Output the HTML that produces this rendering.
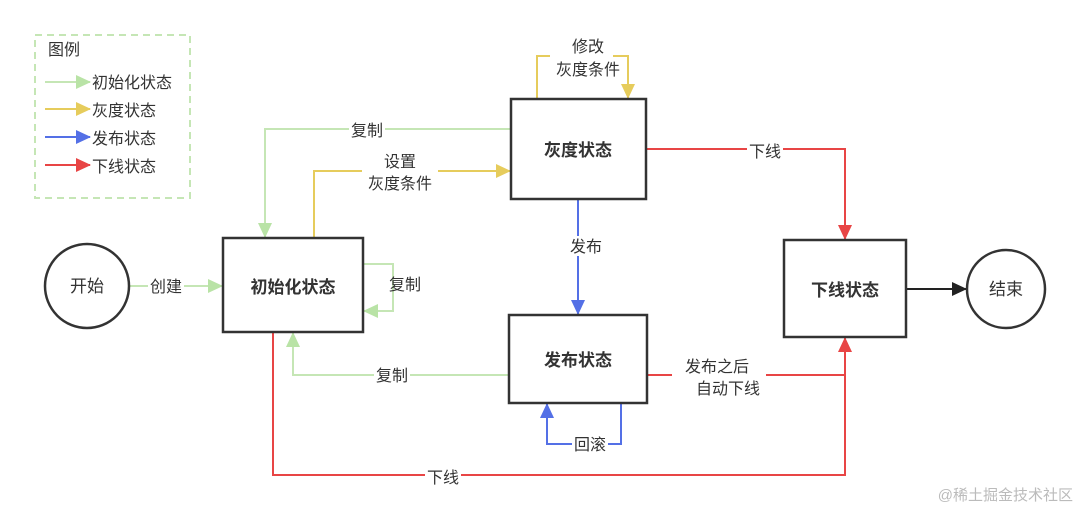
<!DOCTYPE html>
<html><head><meta charset="utf-8"><style>
html,body{margin:0;padding:0;background:#fff;width:1080px;height:510px;overflow:hidden}
text{font-family:"Liberation Sans","Noto Sans CJK SC",sans-serif;fill:#333}
</style></head><body>
<svg width="1080" height="510" viewBox="0 0 1080 510" xmlns="http://www.w3.org/2000/svg">
<defs>
<marker id="g" markerWidth="15" markerHeight="14" refX="14" refY="7" orient="auto" markerUnits="userSpaceOnUse"><path d="M0,0 L15,7 L0,14 Z" fill="#b9e3a6"/></marker>
<marker id="y" markerWidth="15" markerHeight="14" refX="14" refY="7" orient="auto" markerUnits="userSpaceOnUse"><path d="M0,0 L15,7 L0,14 Z" fill="#e6cc5c"/></marker>
<marker id="b" markerWidth="15" markerHeight="14" refX="14" refY="7" orient="auto" markerUnits="userSpaceOnUse"><path d="M0,0 L15,7 L0,14 Z" fill="#5470e6"/></marker>
<marker id="r" markerWidth="15" markerHeight="14" refX="14" refY="7" orient="auto" markerUnits="userSpaceOnUse"><path d="M0,0 L15,7 L0,14 Z" fill="#e84545"/></marker>
<marker id="k" markerWidth="15" markerHeight="14" refX="14" refY="7" orient="auto" markerUnits="userSpaceOnUse"><path d="M0,0 L15,7 L0,14 Z" fill="#222"/></marker>
</defs>
<!-- legend -->
<rect x="35" y="35" width="155" height="163" fill="none" stroke="#c5e6b5" stroke-width="2" stroke-dasharray="7,5"/>
<text x="48" y="55" font-size="16">图例</text>
<line x1="45" y1="82" x2="90" y2="82" stroke="#c5e6b5" stroke-width="2" marker-end="url(#g)"/>
<text x="92" y="88" font-size="16">初始化状态</text>
<line x1="45" y1="109" x2="90" y2="109" stroke="#e6cc5c" stroke-width="2" marker-end="url(#y)"/>
<text x="92" y="116" font-size="16">灰度状态</text>
<line x1="45" y1="137" x2="90" y2="137" stroke="#5470e6" stroke-width="2" marker-end="url(#b)"/>
<text x="92" y="144" font-size="16">发布状态</text>
<line x1="45" y1="165" x2="90" y2="165" stroke="#e84545" stroke-width="2" marker-end="url(#r)"/>
<text x="92" y="172" font-size="16">下线状态</text>

<g fill="none" stroke-width="2">
<polyline points="511,129 265,129 265,237" stroke="#c5e6b5" marker-end="url(#g)"/>
<polyline points="314,238 314,171 510,171" stroke="#e6cc5c" marker-end="url(#y)"/>
<polyline points="537,99 537,56 550,56" stroke="#e6cc5c"/>
<polyline points="613,56 628,56 628,98" stroke="#e6cc5c" marker-end="url(#y)"/>
<polyline points="646,149 845,149 845,239" stroke="#e84545" marker-end="url(#r)"/>
<line x1="578" y1="199" x2="578" y2="314" stroke="#5470e6" marker-end="url(#b)"/>
<polyline points="363,264 393,264 393,311 364,311" stroke="#c5e6b5" marker-end="url(#g)"/>
<line x1="129" y1="286" x2="222" y2="286" stroke="#c5e6b5" marker-end="url(#g)"/>
<polyline points="509,375 293,375 293,333" stroke="#c5e6b5" marker-end="url(#g)"/>
<polyline points="647,375 845,375" stroke="#e84545"/>
<polyline points="273,332 273,475 845,475 845,338" stroke="#e84545" marker-end="url(#r)"/>
<polyline points="621,403 621,444 547,444 547,404" stroke="#5470e6" marker-end="url(#b)"/>
<line x1="906" y1="289" x2="966" y2="289" stroke="#222" marker-end="url(#k)"/>
</g>

<g fill="#fff">
<rect x="349" y="120" width="36" height="20"/>
<rect x="362" y="150" width="76" height="42"/>
<rect x="550" y="36" width="63" height="44"/>
<rect x="747" y="140" width="36" height="20"/>
<rect x="561" y="236" width="34" height="20"/>
<rect x="148" y="276" width="36" height="20"/>
<rect x="374" y="365" width="36" height="20"/>
<rect x="672" y="354" width="94" height="44"/>
<rect x="425" y="466" width="36" height="20"/>
<rect x="572" y="434" width="36" height="20"/>
</g>
<g font-size="16" text-anchor="middle">
<text x="367" y="136">复制</text>
<text x="400" y="167">设置</text>
<text x="400" y="189">灰度条件</text>
<text x="588" y="52">修改</text>
<text x="588" y="75">灰度条件</text>
<text x="765" y="157">下线</text>
<text x="586" y="252">发布</text>
<text x="166" y="292">创建</text>
<text x="405" y="290">复制</text>
<text x="392" y="381">复制</text>
<text x="717" y="372">发布之后</text>
<text x="728" y="394">自动下线</text>
<text x="443" y="483">下线</text>
<text x="590" y="450">回滚</text>
</g>

<g fill="#fff" stroke="#333" stroke-width="2.5">
<circle cx="87" cy="286" r="42"/>
<rect x="223" y="238" width="140" height="94"/>
<rect x="511" y="99" width="135" height="100"/>
<rect x="509" y="315" width="138" height="88"/>
<rect x="784" y="240" width="122" height="97"/>
<circle cx="1006" cy="289" r="39"/>
</g>
<g font-size="17" text-anchor="middle">
<text x="87" y="292">开始</text>
<text x="293" y="293" font-weight="bold">初始化状态</text>
<text x="578" y="156" font-weight="bold">灰度状态</text>
<text x="578" y="366" font-weight="bold">发布状态</text>
<text x="845" y="296" font-weight="bold">下线状态</text>
<text x="1006" y="295">结束</text>
</g>
<text x="1073" y="500" font-size="15" text-anchor="end" style="fill:#bbb">@稀土掘金技术社区</text>
</svg>
</body></html>
